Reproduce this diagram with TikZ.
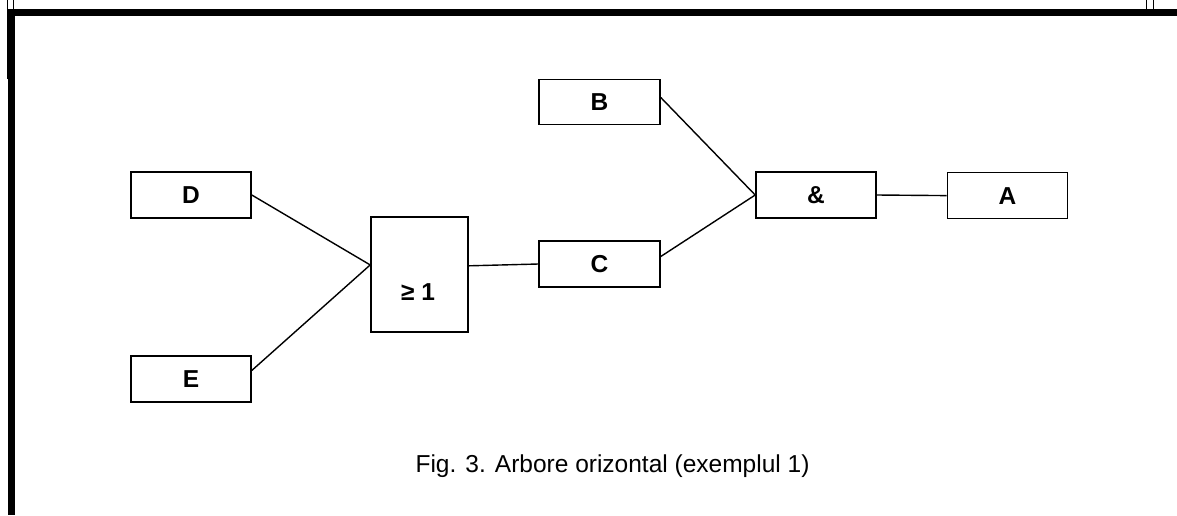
\documentclass[tikz,border=0pt]{standalone}
\usepackage{fontspec}
\setmainfont{Liberation Sans}
\usetikzlibrary{positioning}

\begin{document}
\begin{tikzpicture}
  [x=1pt,y=-1pt,
   gate/.style={draw,line width=1.6pt,minimum width=120pt,minimum height=46pt,
     inner sep=0pt,font=\bfseries\fontsize{24.5}{29}\selectfont},
   wire/.style={line width=1.4pt}]
  \useasboundingbox (0,0) rectangle (1177,515);

  % page frame
  \fill (8,9) rectangle (1177,16.3);
  \fill (8,9) rectangle (15.3,515);
  \draw[line width=0.8pt] (7,0) -- (7,78) -- (8,78);
  \draw[line width=0.8pt] (13,0) -- (13,9);
  \draw[line width=0.8pt] (1146.5,0) -- (1146.5,9);
  \draw[line width=0.8pt] (1153,0) -- (1153,9);

  \node[gate] (D) at (191,195) {D};
  \node[gate] (E) at (191,379) {E};
  \node[gate,minimum width=97pt,minimum height=115pt] (or) at (419.5,274.5) {};
  \node[font=\bfseries\fontsize{24.5}{29}\selectfont] (orlbl) at (418,292) {≥ 1};
  \node[gate,minimum width=121pt,minimum height=45pt] (B) at (599.5,101.8) {B};
  \node[gate,minimum width=121pt] (C) at (599.5,264) {C};
  \node[gate] (and) at (816,195) {\&};
  \node[gate] (A) at (1007.5,195.6) {A};

\path[wire,draw]
    (D.east) -- (or.169)
    (E.8) -- (or.169)
    (or.10) -- (C.west)
    (B.4) -- (and.west)
    (C.7) -- (and.west)
    (and.east) -- (A.west)
    ;

  \node[anchor=base west,font=\fontsize{24.5}{29}\selectfont] (cap) at (412,472)
    {Fig. 3. Arbore orizontal (exemplul 1)};
\end{tikzpicture}
\end{document}
